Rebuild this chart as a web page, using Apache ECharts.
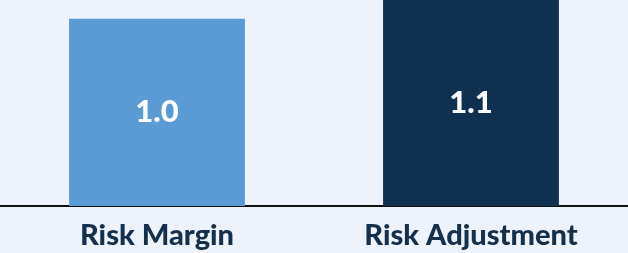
<!DOCTYPE html>
<html>
<head>
<meta charset="utf-8">
<script src="https://cdn.jsdelivr.net/npm/echarts@6/dist/echarts.min.js"></script>
<style>
html,body{margin:0;padding:0;background:#eef2fa;}
#c{width:628px;height:253px;}
</style>
</head>
<body>
<div id="c"></div>
<script>
var categories = ['Risk Margin', 'Risk Adjustment'];
var values = [1.0, 1.1];
var barColors = ['#5b9bd5', '#10304f'];

var chart = echarts.init(document.getElementById('c'));
chart.setOption({
  backgroundColor: '#eef2fa',
  animation: false,
  grid: { left: 0, width: 630, top: 0, bottom: 47 },
  xAxis: {
    type: 'category',
    data: categories,
    axisTick: { show: false },
    axisLine: { lineStyle: { color: '#111111', width: 2 } },
    axisLabel: {
      color: '#14304d',
      fontFamily: 'Lato',
      fontWeight: 900,
      fontSize: 29,
      lineHeight: 29,
      margin: 15,
      interval: 0
    }
  },
  yAxis: {
    type: 'value',
    min: 0,
    max: 1.1,
    show: false,
    splitLine: { show: false }
  },
  series: [{
    type: 'bar',
    barWidth: '56%',
    data: values.map(function (v, i) {
      return { value: v, itemStyle: { color: barColors[i] } };
    }),
    label: {
      show: true,
      position: 'inside',
      color: '#ffffff',
      fontFamily: 'Lato',
      fontWeight: 900,
      fontSize: 31,
      formatter: function (p) { return p.value.toFixed(1); }
    }
  }]
});
</script>
</body>
</html>
